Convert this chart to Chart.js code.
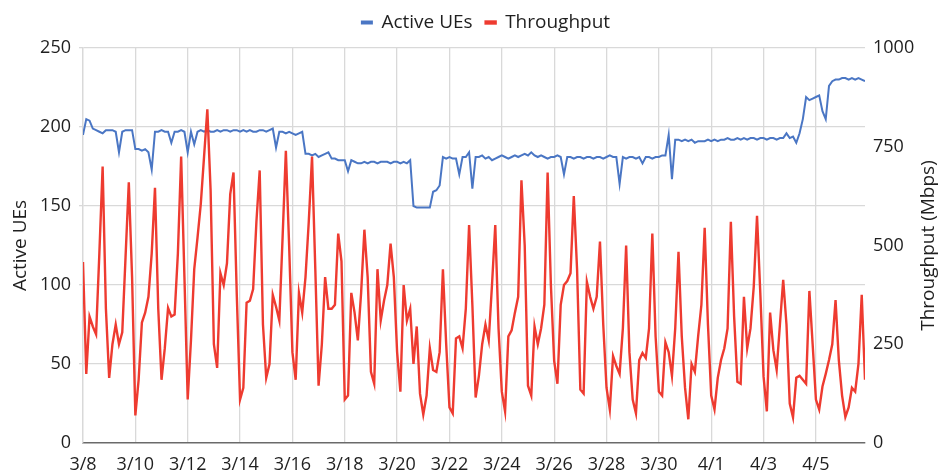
<!DOCTYPE html>
<html>
<head>
<meta charset="utf-8">
<script src="https://cdn.jsdelivr.net/npm/chart.js@4.4.0/dist/chart.umd.min.js"></script>
<style>
 html,body{margin:0;padding:0;background:#fff;}
</style>
</head>
<body>
<canvas id="chart" width="940" height="474"></canvas>
<script>
/* ----- DATA (one sample every 3 hours, starting 3/8 00:00) ----- */
const STEP_DAYS=3/24;

const dateTicks=['3/8','3/10','3/12','3/14','3/16','3/18','3/20','3/22',
 '3/24','3/26','3/28','3/30','4/1','4/3','4/5'];

const activeUEs=[
 195,205,204,199,198,197,196,198, 198,198,197,184,197,198,198,198,
 186,186,185,186,184,173,197,197, 198,197,197,190,197,197,198,197,
 184,197,189,197,198,197,198,197, 197,198,197,198,198,197,198,198,
 197,198,197,198,197,197,198,198, 197,198,199,187,197,197,196,197,
 196,195,196,197,183,183,182,183, 181,182,183,184,180,180,179,179,
 179,172,179,178,177,177,178,177, 178,178,177,178,178,178,177,178,
 178,177,178,177,179,150,149,149, 149,149,149,159,160,163,181,180,
 181,180,180,170,181,181,184,161, 181,181,182,180,181,179,180,181,
 182,181,180,181,182,181,182,183, 182,184,182,181,182,181,180,181,
 181,182,181,170,181,181,180,181, 181,180,181,181,180,181,181,180,
 181,182,181,181,164,181,180,181, 181,180,181,177,181,181,180,181,
 181,182,182,195,167,192,192,191, 192,191,192,190,191,191,191,192,
 191,192,191,192,192,193,192,192, 193,192,193,192,193,193,192,193,
 193,192,193,193,192,193,193,196, 193,194,190,196,205,219,217,218,
 219,220,210,205,226,229,230,230, 231,231,230,231,230,231,230,229
];

const throughput=[
 458,175,320,295,275,480,700,340, 165,250,300,250,280,470,660,420,
 70,160,305,330,370,480,646,340,  160,240,342,320,325,480,725,420,
 110,260,440,520,605,725,845,640, 250,190,430,400,455,630,685,375,
 110,140,355,360,390,560,690,300, 165,200,375,345,310,520,740,500,
 230,160,380,330,420,560,725,440, 145,250,420,340,340,350,530,460,
 110,120,380,330,260,380,540,420, 180,150,440,310,360,400,505,420,
 230,130,400,310,340,200,295,125, 72,120,240,185,180,230,440,250,
 90,75,265,270,240,340,552,350,   115,170,250,300,260,400,552,290,
 130,80,270,285,330,370,665,500,  145,120,295,250,290,350,685,400,
 208,150,350,400,410,430,625,440, 135,125,408,370,340,370,510,300,
 140,85,220,195,175,290,500,230,  110,75,210,228,215,290,530,270,
 130,120,255,230,170,290,484,270, 140,60,200,180,270,350,545,300,
 120,85,165,210,240,290,560,320,  155,150,370,240,290,396,575,380,
 168,80,330,235,185,300,413,300,  100,65,165,170,160,150,385,250,
 110,85,143,175,210,250,362,210,  120,66,90,140,130,200,375,160
];

const BLUE='#4a76c4';
const RED='#ee3b30';
const INK='#1f1f1f';
const GRID='#d9d9d9';
const FONT="'Open Sans', sans-serif";

const days=throughput.map((_,i)=>i*STEP_DAYS);
const asPoints=arr=>arr.map((v,i)=>({x:days[i],y:v}));

/* ----- small layout helpers ----- */
const legendBox={
 id:'legendBox',
 afterInit(c){
  const lg=c.legend;
  if(!lg) return;
  const fit=lg.fit;
  lg.fit=function(){ fit.call(this); this.height=48; };
 },
 afterLayout(c){
  if(!c.legend) return;
  c.legend.left+=16;
  c.legend.right+=16;
 }
};

const rightTitle={
 id:'rightTitle',
 afterDraw(c){
  const ctx=c.ctx, a=c.chartArea;
  ctx.save();
  ctx.translate(c.width-11,(a.top+a.bottom)/2);
  ctx.rotate(-Math.PI/2);
  ctx.fillStyle=INK;
  ctx.font="19px "+FONT;
  ctx.textAlign='center';
  ctx.textBaseline='middle';
  ctx.fillText('Throughput (Mbps)',0,0);
  ctx.restore();
 }
};

/* ----- CHART ----- */
new Chart(document.getElementById('chart'),{
 type:'line',
 data:{
  datasets:[{
   label:'Active UEs',
   data:asPoints(activeUEs),
   yAxisID:'y',
   borderColor:BLUE,
   backgroundColor:BLUE,
   borderWidth:2,
   pointRadius:0,
   order:2
  },{
   label:'Throughput',
   data:asPoints(throughput),
   yAxisID:'y1',
   borderColor:RED,
   backgroundColor:RED,
   borderWidth:2.4,
   pointRadius:0,
   order:1
  }]
 },
 options:{
  responsive:false,
  animation:false,
  layout:{padding:0},
  plugins:{
   legend:{
    position:'top',
    labels:{
     boxWidth:10,
     boxHeight:2,
     padding:13,
     color:INK,
     font:{family:FONT,size:19},
     sort:(a,b)=>a.datasetIndex-b.datasetIndex
    }
   },
   tooltip:{enabled:false}
  },
  scales:{
   x:{
    type:'linear',
    min:0,
    max:days[days.length-1],
    afterFit:s=>{ s.height=31; },
    grid:{color:GRID,lineWidth:1.3,drawTicks:false},
    border:{color:'#6a6a6a',width:1.5},
    ticks:{
     stepSize:2,
     includeBounds:false,
     autoSkip:false,
     maxRotation:0,
     padding:11,
     color:INK,
     font:{family:FONT,size:18},
     callback:v=>dateTicks[v/2]||''
    }
   },
   y:{
    position:'left',
    min:0,
    max:250,
    afterFit:s=>{ s.width=83; },
    grid:{
     color:t=>t.tick&&t.tick.value===0?'rgba(0,0,0,0)':GRID,
     lineWidth:1.3,
     tickLength:4
    },
    border:{color:GRID,width:1.3},
    ticks:{stepSize:50,padding:8,color:INK,font:{family:FONT,size:18}},
    title:{
     display:true,
     text:'Active UEs',
     color:INK,
     font:{family:FONT,size:19},
     padding:{top:9,bottom:0}
    }
   },
   y1:{
    position:'right',
    min:0,
    max:1000,
    afterFit:s=>{ s.width=75; },
    grid:{drawOnChartArea:false,drawTicks:false},
    border:{display:false},
    ticks:{
     stepSize:250,
     padding:8,
     color:INK,
     font:{family:FONT,size:18},
     callback:v=>String(v)
    }
   }
  }
 },
 plugins:[legendBox,rightTitle]
});
</script>
</body>
</html>
